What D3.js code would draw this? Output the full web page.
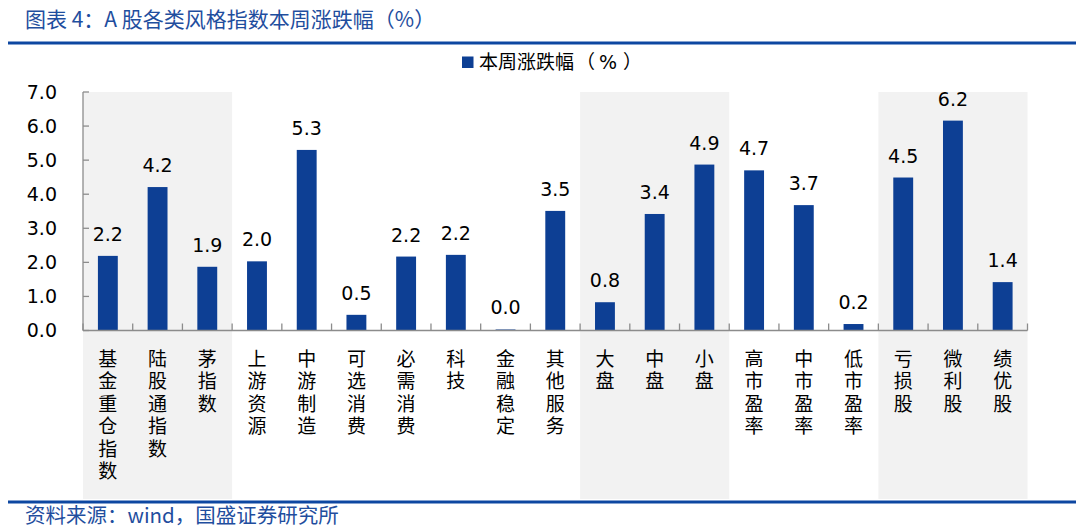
<!DOCTYPE html>
<html lang="zh-CN"><head><meta charset="utf-8">
<script src="https://cdn.jsdelivr.net/npm/d3@7"></script>
<style>body{margin:0;background:#fff;} svg{display:block;}</style>
</head><body>
<svg id="c" width="1080" height="529" lang="zh-CN"></svg>
<script>
const categories = ["基金重仓指数","陆股通指数","茅指数","上游资源","中游制造","可选消费","必需消费","科技","金融稳定","其他服务","大盘","中盘","小盘","高市盈率","中市盈率","低市盈率","亏损股","微利股","绩优股"];
const values = [2.19,4.21,1.87,2.03,5.30,0.46,2.17,2.22,0.03,3.51,0.83,3.42,4.87,4.70,3.68,0.19,4.49,6.16,1.42];
const yTicks = [0,1,2,3,4,5,6,7];
const shadedGroups = [["基金重仓指数","茅指数"],["大盘","小盘"],["亏损股","绩优股"]];
const seriesName = ["本周涨跌幅", "（", "%", "）"];
const titleText = "图表 4：A 股各类风格指数本周涨跌幅（%）";
const sourceText = "资料来源：wind，国盛证券研究所";

const svg = d3.select("#c");
const blue = "#0d3f94";
const titleBlue = "#1f4e9e";
const cjk = "'Noto Sans CJK SC','Noto Sans',sans-serif";
const cjkTight = "'Liberation Sans','Noto Sans CJK SC',sans-serif";
const num = "'DejaVu Sans',Verdana,sans-serif";

const x = d3.scaleBand().domain(categories).range([83, 1027.5]).paddingInner(0.6).paddingOuter(0.3);
const y = d3.scaleLinear().domain([0, 7]).range([330.5, 92]);

// Title & rules
svg.append("text").attr("x", 25).attr("y", 27).attr("font-family", cjk).attr("font-size", 21)
  .attr("fill", titleBlue).text(titleText);
svg.append("rect").attr("x", 8).attr("y", 41.5).attr("width", 1068).attr("height", 3).attr("fill", "#0d47a1");
svg.append("rect").attr("x", 8).attr("y", 500.5).attr("width", 1068).attr("height", 3).attr("fill", "#0d47a1");
svg.append("text").attr("x", 25).attr("y", 523).attr("font-family", cjk).attr("font-size", 20.5)
  .attr("fill", titleBlue).text(sourceText);

// shaded bands
const x0 = 83, stepW = (1027.5-83)/categories.length;
shadedGroups.forEach(([a,b]) => {
  const i0 = categories.indexOf(a), i1 = categories.indexOf(b);
  svg.append("rect").attr("x", x0 + i0*stepW).attr("y", y(7))
    .attr("width", (i1-i0+1)*stepW).attr("height", 499 - y(7)).attr("fill", "#f2f2f2");
});

// legend
svg.append("rect").attr("x", 462).attr("y", 56.5).attr("width", 11.5).attr("height", 11.5).attr("fill", blue);
const lg = svg.append("text").attr("x", 479).attr("y", 69).attr("font-family", cjk).attr("font-size", 19).attr("fill", "#000");
lg.append("tspan").text(seriesName[0]);
lg.append("tspan").attr("dx", 2).text(seriesName[1]);
lg.append("tspan").attr("dx", 4).attr("font-family", num).text(seriesName[2]);
lg.append("tspan").attr("dx", 6).text(seriesName[3]);

// bars
svg.selectAll("rect.bar").data(values).join("rect").attr("class","bar")
  .attr("x", (d,i) => x(categories[i])).attr("width", x.bandwidth())
  .attr("y", d => y(d)).attr("height", d => Math.max(y(0)-y(d), 1)).attr("fill", blue);

// value labels
svg.selectAll("text.val").data(values).join("text").attr("class","val")
  .attr("x", (d,i) => x(categories[i]) + x.bandwidth()/2).attr("y", d => y(d) - 15)
  .attr("text-anchor","middle").attr("font-family", num).attr("font-size", 19).attr("fill","#000")
  .text(d => d.toFixed(1));

// y axis
const axisColor = "#8c8c8c";
svg.append("line").attr("x1", 83).attr("x2", 83).attr("y1", y(7)).attr("y2", y(0)).attr("stroke", axisColor).attr("stroke-width", 1.3);
yTicks.forEach(t => {
  svg.append("line").attr("x1", 83).attr("x2", 89).attr("y1", y(t)).attr("y2", y(t)).attr("stroke", axisColor).attr("stroke-width", 1.3);
  svg.append("text").attr("x", 57).attr("y", y(t)).attr("dy", "0.36em").attr("text-anchor","end")
    .attr("font-family", num).attr("font-size", 19).attr("fill","#000").text(t.toFixed(1));
});

// x axis
svg.append("line").attr("x1", 83).attr("x2", 1027.5).attr("y1", y(0)).attr("y2", y(0)).attr("stroke", axisColor).attr("stroke-width", 1.5);
for (let i = 0; i <= categories.length; i++) {
  const xx = x0 + i*stepW;
  svg.append("line").attr("x1", xx).attr("x2", xx).attr("y1", y(0)).attr("y2", y(0)-7).attr("stroke", axisColor).attr("stroke-width", 1.3);
}

// category labels (stacked characters)
categories.forEach(c => {
  const cx = x(c) + x.bandwidth()/2;
  Array.from(c).forEach((ch, k) => {
    svg.append("text").attr("x", cx).attr("y", 366 + k*22.4)
      .attr("text-anchor","middle").attr("font-family", cjkTight).attr("font-size", 19).attr("fill","#000").text(ch);
  });
});
</script>
</body></html>
